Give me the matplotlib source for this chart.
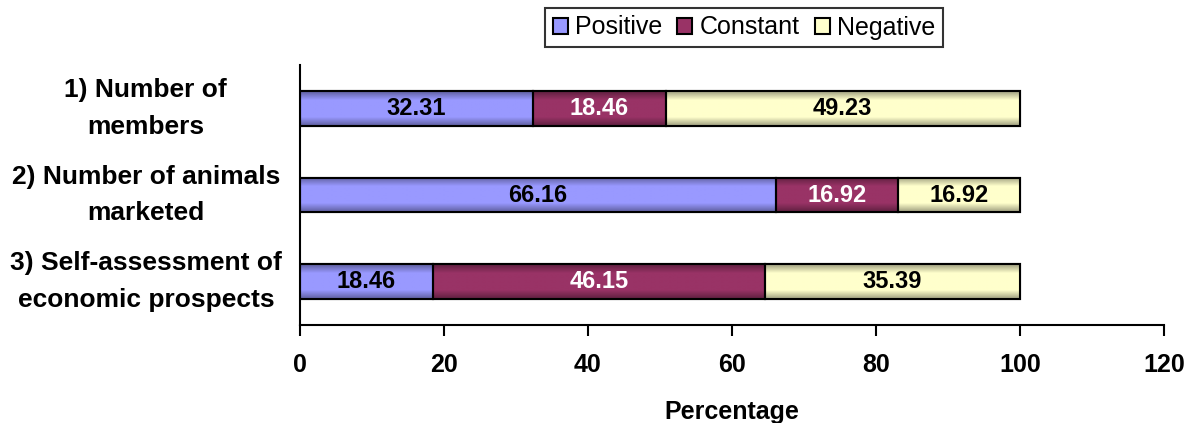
import numpy as np
import matplotlib
matplotlib.use("Agg")
import matplotlib.pyplot as plt
from matplotlib.colors import LinearSegmentedColormap, to_rgb
from matplotlib.patches import Patch

categories = ["1) Number of\nmembers",
              "2) Number of animals\nmarketed",
              "3) Self-assessment of\neconomic prospects"]
series_names = ["Positive", "Constant", "Negative"]
positive = [32.31, 66.16, 18.46]
constant = [18.46, 16.92, 46.15]
negative = [49.23, 16.92, 35.39]
x_ticks = [0, 20, 40, 60, 80, 100, 120]

colors = ["#9999FF", "#993366", "#FFFFCC"]
label_colors = ["black", "white", "black"]

plt.rcParams["font.family"] = ["Liberation Sans", "DejaVu Sans"]

fig = plt.figure(figsize=(11.92, 4.23), dpi=100)
ax = fig.add_axes([300 / 1192, 1 - 325 / 423, 864 / 1192, 260 / 423])

y = np.arange(len(categories))
left = np.zeros(len(categories))
bar_h = 0.4


def shade_cmap(color):
    c = np.array(to_rgb(color))
    dark = c * 0.62
    return LinearSegmentedColormap.from_list(
        "shade", [dark, c, c, c, dark], N=256)


for vals, col, lc in zip([positive, constant, negative], colors, label_colors):
    bars = ax.barh(y, vals, left=left, height=bar_h, color=col,
                   edgecolor="black", linewidth=1.5, zorder=2)
    grad = np.linspace(0, 1, 64).reshape(-1, 1)
    for b in bars:
        x0, yb = b.get_x(), b.get_y()
        w, h = b.get_width(), b.get_height()
        im = ax.imshow(grad, extent=[x0, x0 + w, yb + h, yb], aspect="auto",
                       cmap=shade_cmap(col), zorder=2.5, interpolation="bilinear")
        im.set_clip_path(b)
        ax.add_patch(plt.Rectangle((x0, yb), w, h, fill=False,
                                   edgecolor="black", linewidth=1.5, zorder=3))
    for yi, l, v in zip(y, left, vals):
        ax.text(l + v / 2, yi, f"{v:.2f}", ha="center", va="center",
                fontsize=17, fontweight="bold", color=lc, zorder=4)
    left = left + np.array(vals)

ax.set_xlim(0, 120)
ax.set_ylim(len(categories) - 0.5, -0.5)
ax.set_xticks(x_ticks)
ax.set_xticklabels([str(t) for t in x_ticks], fontsize=18, fontweight="bold")
ax.set_yticks(y)
ax.set_yticklabels(categories, fontsize=19, fontweight="bold",
                   ha="center", va="center", linespacing=1.65)
ax.tick_params(axis="y", length=0, pad=111)
ax.tick_params(axis="x", length=8, width=1.5, direction="out", pad=12)
ax.spines["top"].set_visible(False)
ax.spines["right"].set_visible(False)
for s in ("left", "bottom"):
    ax.spines[s].set_linewidth(1.5)
ax.set_xlabel("Percentage", fontsize=18, fontweight="bold", labelpad=17)

handles = [Patch(facecolor=c, edgecolor="black", linewidth=1.5) for c in colors]
leg = fig.legend(handles, series_names, loc="upper center",
                 bbox_to_anchor=(744 / 1192, 1 - 8 / 423), ncol=3,
                 fontsize=18, frameon=True, fancybox=False,
                 handlelength=0.6, handleheight=0.6, handletextpad=0.3,
                 columnspacing=0.6, borderpad=0.3, borderaxespad=0)
leg.get_frame().set_edgecolor("black")
leg.get_frame().set_linewidth(1.5)

fig.savefig("out.png", dpi=100)
